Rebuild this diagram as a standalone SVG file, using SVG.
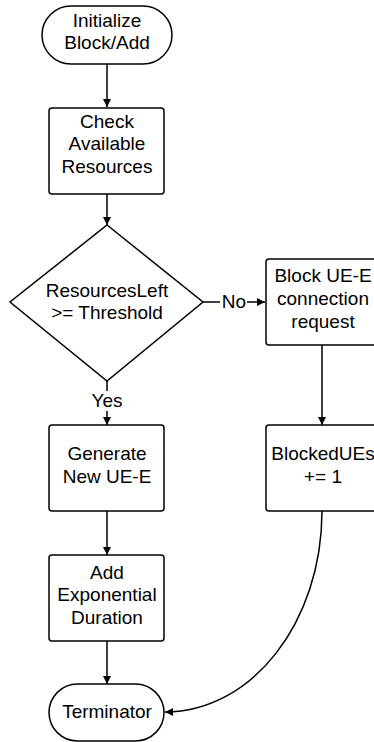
<svg xmlns="http://www.w3.org/2000/svg" width="374" height="742" viewBox="0 0 374 742">
<style>
.n{fill:#fff;stroke:#000;stroke-width:1.5}
.t{font-family:"Liberation Sans",Arial,sans-serif;font-size:19px;fill:#000;text-anchor:middle}
.c{fill:none;stroke:#000;stroke-width:1.5}
</style>
<defs>
<marker id="ah" viewBox="0 0 10 10" refX="10" refY="5" markerWidth="9" markerHeight="8" markerUnits="userSpaceOnUse" orient="auto">
<path d="M0,0 L10,5 L0,10 z" fill="#000"/>
</marker>
</defs>
<rect width="374" height="742" fill="#fff"/>
<g id="connectors">
<path class="c" d="M107 64 V107" marker-end="url(#ah)"/>
<path class="c" d="M107 194 V225" marker-end="url(#ah)"/>
<path class="c" d="M203 302 H220"/>
<path class="c" d="M247 302 H265" marker-end="url(#ah)"/>
<path class="c" d="M107 381 V391"/>
<path class="c" d="M107 411 V425" marker-end="url(#ah)"/>
<path class="c" d="M322 345 V425" marker-end="url(#ah)"/>
<path class="c" d="M107 511 V555" marker-end="url(#ah)"/>
<path class="c" d="M107 641 V684" marker-end="url(#ah)"/>
<path class="c" d="M322 511 C322 622 252 712 165 712" marker-end="url(#ah)"/>
<text class="t" x="234" y="308">No</text>
<text class="t" x="107" y="407">Yes</text>
</g>
<g id="start">
<rect class="n" x="42" y="6" width="130" height="58" rx="29"/>
<text class="t" x="107" y="26.5">Initialize</text>
<text class="t" x="107" y="48.5">Block/Add</text>
</g>
<g id="check">
<rect class="n" x="49" y="108" width="115" height="86" rx="3"/>
<text class="t" x="107" y="127.5">Check</text>
<text class="t" x="107" y="150">Available</text>
<text class="t" x="107" y="173">Resources</text>
</g>
<g id="decision">
<polygon class="n" points="107,225 203,302 107,381 10,302"/>
<text class="t" x="107" y="297">ResourcesLeft</text>
<text class="t" x="107" y="319">&gt;= Threshold</text>
</g>
<g id="block">
<rect class="n" x="266" y="259" width="115" height="86" rx="3"/>
<text class="t" x="323" y="282">Block UE-E</text>
<text class="t" x="323" y="305">connection</text>
<text class="t" x="323" y="328">request</text>
</g>
<g id="generate">
<rect class="n" x="49" y="425" width="115" height="86" rx="3"/>
<text class="t" x="107" y="460">Generate</text>
<text class="t" x="107" y="483">New UE-E</text>
</g>
<g id="blocked">
<rect class="n" x="266" y="425" width="115" height="86" rx="3"/>
<text class="t" x="323" y="459.5">BlockedUEs</text>
<text class="t" x="323" y="483">+= 1</text>
</g>
<g id="add">
<rect class="n" x="49" y="555" width="115" height="86" rx="3"/>
<text class="t" x="107" y="578.5">Add</text>
<text class="t" x="107" y="601">Exponential</text>
<text class="t" x="107" y="624">Duration</text>
</g>
<g id="terminator">
<rect class="n" x="49" y="684" width="115" height="57" rx="28.5"/>
<text class="t" x="107" y="718">Terminator</text>
</g>
</svg>
